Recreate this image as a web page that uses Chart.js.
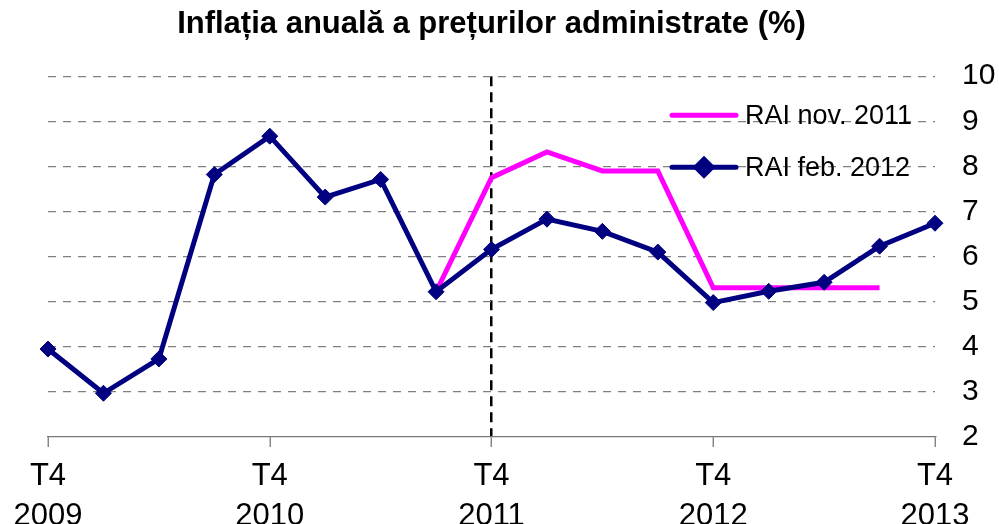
<!DOCTYPE html>
<html>
<head>
<meta charset="utf-8">
<script src="https://cdn.jsdelivr.net/npm/chart.js@4/dist/chart.umd.min.js"></script>
<style>
  html, body { margin: 0; padding: 0; background: #fff; }
  #wrap { width: 999px; height: 524px; }
</style>
</head>
<body>
<div id="wrap"><canvas id="grafic"></canvas></div>
<script>
// trimestre T4 2009 ... T4 2013 (17 puncte, etichete doar la T4)
const trimestre = ['T4 2009', 'T1 2010', 'T2 2010', 'T3 2010', 'T4 2010', 'T1 2011', 'T2 2011', 'T3 2011',
  'T4 2011', 'T1 2012', 'T2 2012', 'T3 2012', 'T4 2012', 'T1 2013', 'T2 2013', 'T3 2013', 'T4 2013'];
const etichetaTrimestru = ['T4', '', '', '', 'T4', '', '', '', 'T4', '', '', '', 'T4', '', '', '', 'T4'];
const etichetaAn = ['2009', '', '', '', '2010', '', '', '', '2011', '', '', '', '2012', '', '', '', '2013'];

const raiNov2011 = [null, null, null, null, null, null, null, 5.22, 7.75, 8.32, 7.9, 7.9, 5.31, 5.31, 5.31, 5.31, null];
const raiFeb2012 = [3.95, 2.97, 3.73, 7.82, 8.67, 7.32, 7.71, 5.22, 6.16, 6.83, 6.56, 6.1, 4.98, 5.23, 5.43, 6.23, 6.74];

const yMin = 2;
const yMax = 10;
const indexPrognoza = 8; // linia verticala la T4 2011

const fontText = "'Liberation Sans', Arial, sans-serif";

// legenda desenata in interiorul graficului (sus-dreapta)
const legendaInterior = {
  id: 'legendaInterior',
  afterDatasetsDraw(chart) {
    const { ctx, chartArea } = chart;
    const x0 = chartArea.right - 263;
    let y = chartArea.top + 39;
    ctx.save();
    chart.data.datasets.forEach(ds => {
      ctx.strokeStyle = ds.borderColor;
      ctx.lineWidth = ds.borderWidth;
      ctx.lineCap = 'round';
      ctx.beginPath();
      ctx.moveTo(x0, y);
      ctx.lineTo(x0 + 64, y);
      ctx.stroke();
      if (ds.pointRadius > 0) {
        ctx.fillStyle = ds.pointBackgroundColor;
        Chart.helpers.drawPoint(ctx, {
          pointStyle: ds.pointStyle,
          radius: ds.pointRadius,
          borderWidth: 1,
          rotation: 0
        }, x0 + 32, y);
      }
      ctx.fillStyle = '#000';
      ctx.font = "27px " + fontText;
      ctx.textBaseline = 'middle';
      ctx.textAlign = 'left';
      ctx.fillText(ds.label, x0 + 73, y + 1);
      y += 52;
    });
    ctx.restore();
  }
};

const config = {
  type: 'line',
  data: {
    labels: trimestre,
    datasets: [{
      label: 'RAI nov. 2011',
      data: raiNov2011,
      borderColor: '#FF00FF',
      backgroundColor: '#FF00FF',
      borderWidth: 5,
      pointRadius: 0,
      pointHoverRadius: 0,
      tension: 0,
      clip: false,
      order: 1
    }, {
      label: 'RAI feb. 2012',
      data: raiFeb2012,
      borderColor: '#000080',
      backgroundColor: '#000080',
      pointBackgroundColor: '#000080',
      pointBorderColor: '#000080',
      borderWidth: 5,
      pointStyle: 'rectRot',
      pointRadius: 8,
      pointBorderWidth: 1,
      tension: 0,
      clip: false,
      order: 0
    }]
  },
  options: {
    responsive: true,
    maintainAspectRatio: false,
    animation: false,
    layout: {
      padding: { left: 48, right: 0, top: 0, bottom: 0 }
    },
    plugins: {
      legend: { display: false },
      tooltip: { enabled: false },
      title: {
        display: true,
        fullSize: false, // centrat deasupra zonei graficului
        text: 'Inflația anuală a prețurilor administrate (%)',
        color: '#000',
        font: { family: fontText, size: 31, weight: 'bold', lineHeight: 1.2 },
        padding: { top: 6, bottom: 33 }
      }
    },
    scales: {
      x: {
        offset: false,
        grid: {
          drawOnChartArea: true,
          color: ctx => ctx.index === indexPrognoza ? '#000' : 'rgba(0,0,0,0)',
          lineWidth: 2.5,
          tickColor: ctx => ctx.index % 4 === 0 ? '#777' : 'rgba(0,0,0,0)',
          tickWidth: 1.3,
          tickLength: 10
        },
        border: { display: true, color: '#777', width: 1.3, dash: [10, 6] },
        ticks: {
          autoSkip: false,
          maxRotation: 0,
          padding: 9,
          color: '#000',
          font: { family: fontText, size: 31, lineHeight: 1.3 },
          callback: (v, i) => etichetaTrimestru[i] ? [etichetaTrimestru[i], etichetaAn[i]] : ''
        },
        afterFit: scale => { scale.height = 87; }
      },
      y: {
        position: 'right',
        min: yMin,
        max: yMax,
        grid: {
          color: ctx => ctx.tick && ctx.tick.value === yMin ? 'rgba(0,0,0,0)' : '#808080',
          lineWidth: 1.3,
          drawTicks: false
        },
        border: { display: false, dash: [8, 7] },
        ticks: {
          stepSize: 1,
          padding: 27,
          color: '#000',
          font: { family: fontText, size: 30 }
        },
        afterFit: scale => { scale.width = 64; }
      }
    }
  },
  plugins: [legendaInterior]
};

new Chart(document.getElementById('grafic'), config);
</script>
</body>
</html>
